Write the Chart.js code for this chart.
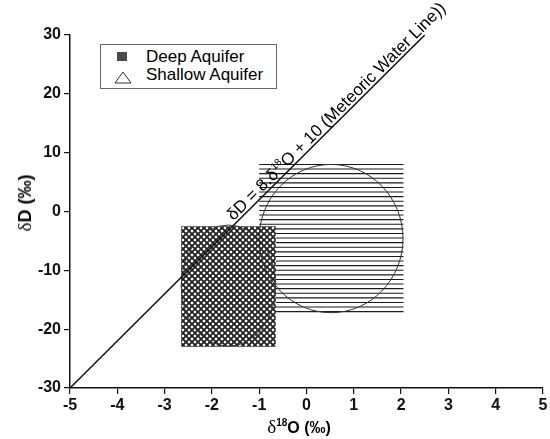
<!DOCTYPE html>
<html>
<head>
<meta charset="utf-8">
<script src="https://cdn.jsdelivr.net/npm/chart.js@4.4.0/dist/chart.umd.min.js"></script>
<style>
  html, body { margin: 0; padding: 0; background: #fff; }
  #wrap { position: relative; width: 550px; height: 439px; font-family: "Liberation Sans", Arial, sans-serif; color: #000; }
  #chart { position: absolute; left: 0; top: 0; }
  .legend { position: absolute; left: 100px; top: 44px; width: 175px; height: 43px; border: 1px solid #666; background: #fff; }
  .legend .sq { position: absolute; left: 16px; top: 7px; width: 10px; height: 9px; background: #4a4a4a; }
  .legend svg { position: absolute; left: 13px; top: 26px; }
  .legend .txt { position: absolute; left: 45px; font-size: 17px; line-height: 18px; white-space: nowrap; }
  .xtitle { position: absolute; left: 299px; top: 417px; transform: translateX(-50%); font-size: 16px; font-weight: bold; line-height: 20px; white-space: nowrap; }
  .ytitle { position: absolute; left: 25px; top: 203px; transform: translate(-50%, -50%) rotate(-90deg); font-size: 18px; font-weight: bold; line-height: 22px; white-space: nowrap; }
  .delta { font-family: "Liberation Serif", "DejaVu Serif", serif; font-weight: normal; font-size: 19px; }
  .xtitle sup { font-size: 10px; vertical-align: baseline; position: relative; top: -7px; }
</style>
</head>
<body>
<div id="wrap">
  <canvas id="chart" width="550" height="439"></canvas>
  <div class="legend">
    <div class="sq"></div>
    <div class="txt" style="top:3px">Deep Aquifer</div>
    <svg width="18" height="13" viewBox="0 0 18 13"><polygon points="9,1 17,12 1,12" fill="#fff" stroke="#333" stroke-width="1"/></svg>
    <div class="txt" style="top:21px">Shallow Aquifer</div>
  </div>
  <div class="xtitle"><span class="delta">δ</span><sup>18</sup>O (‰)</div>
  <div class="ytitle"><span class="delta">δ</span>D (‰)</div>
</div>
<script>
// axes
const xMin = -5, xMax = 5;
const yMin = -30, yMax = 30;

// meteoric water line  dD = 8 d18O + 10
const mwlX = [-5, 2.5];
const mwlY = [-30, 30];

// deep aquifer field (cross-hatched box + ellipse)
const deepBoxX = [-2.65, -0.65];
const deepBoxY = [-23, -2.5];
const deepEllipse = [-1.65, -12.6, 1.0, 10.3];     // cx, cy, rx, ry

// shallow aquifer field (horizontal lines box + ellipse)
const shallowBoxX = [-1.0, 2.05];
const shallowBoxY = [-17, 8];
const shallowEllipse = [0.52, -4.6, 1.52, 12.6];

const mwlLabelStartX = -1.5;

function crossPattern(ctx) {
  const p = 6;
  const c = document.createElement('canvas');
  c.width = p; c.height = p;
  const g = c.getContext('2d');
  g.fillStyle = '#fff';
  g.fillRect(0, 0, p, p);
  g.strokeStyle = '#222';
  g.lineWidth = 1.9;
  g.beginPath();
  g.moveTo(-1, -1); g.lineTo(p + 1, p + 1);
  g.moveTo(p + 1, -1); g.lineTo(-1, p + 1);
  g.stroke();
  return ctx.createPattern(c, 'repeat');
}

const fieldsPlugin = {
  id: 'fields',
  beforeDatasetsDraw(chart) {
    const { ctx, scales: { x, y } } = chart;
    ctx.save();

    // shallow box - horizontal lines
    let l = x.getPixelForValue(shallowBoxX[0]), r = x.getPixelForValue(shallowBoxX[1]);
    let t = y.getPixelForValue(shallowBoxY[1]), b = y.getPixelForValue(shallowBoxY[0]);
    ctx.strokeStyle = '#1a1a1a';
    ctx.lineWidth = 1.1;
    for (let yy = t; yy <= b + 0.5; yy += 4.6) {
      ctx.beginPath();
      ctx.moveTo(l, yy);
      ctx.lineTo(r, yy);
      ctx.stroke();
    }

    // deep box - cross hatch
    l = x.getPixelForValue(deepBoxX[0]); r = x.getPixelForValue(deepBoxX[1]);
    t = y.getPixelForValue(deepBoxY[1]); b = y.getPixelForValue(deepBoxY[0]);
    ctx.fillStyle = crossPattern(ctx);
    ctx.fillRect(l, t, r - l, b - t);

    // ellipses
    ctx.strokeStyle = '#333';
    ctx.lineWidth = 1;
    [deepEllipse, shallowEllipse].forEach(e => {
      const cx = x.getPixelForValue(e[0]), cy = y.getPixelForValue(e[1]);
      const rx = Math.abs(x.getPixelForValue(e[0] + e[2]) - cx);
      const ry = Math.abs(y.getPixelForValue(e[1] + e[3]) - cy);
      ctx.beginPath();
      ctx.ellipse(cx, cy, rx, ry, 0, 0, Math.PI * 2);
      ctx.stroke();
    });
    ctx.restore();
  },
  afterDatasetsDraw(chart) {
    const { ctx, scales: { x, y } } = chart;
    const px0 = x.getPixelForValue(mwlX[0]), py0 = y.getPixelForValue(mwlY[0]);
    const px1 = x.getPixelForValue(mwlX[1]), py1 = y.getPixelForValue(mwlY[1]);
    const ang = Math.atan2(py1 - py0, px1 - px0);
    const f = (mwlLabelStartX - mwlX[0]) / (mwlX[1] - mwlX[0]);
    const sx = px0 + f * (px1 - px0), sy = py0 + f * (py1 - py0);

    ctx.save();
    ctx.translate(sx, sy);
    ctx.rotate(ang);
    ctx.fillStyle = '#000';
    ctx.textBaseline = 'alphabetic';
    const big = '17px "Liberation Sans", Arial, sans-serif';
    const small = '10px "Liberation Sans", Arial, sans-serif';
    let cx = 0;
    ctx.font = big;
    ctx.fillText('δD = 8.δ', cx, -3);
    cx += ctx.measureText('δD = 8.δ').width;
    ctx.font = small;
    ctx.fillText('18', cx, -10);
    cx += ctx.measureText('18').width;
    ctx.font = big;
    ctx.fillText('O + 10 (Meteoric Water Line))', cx, -3);
    ctx.restore();
  }
};

const tickFont = { family: '"Liberation Sans", Arial, sans-serif', size: 16, weight: 'bold' };

new Chart(document.getElementById('chart'), {
  type: 'scatter',
  data: {
    datasets: [{
      label: 'Meteoric Water Line',
      data: mwlX.map((v, i) => ({ x: v, y: mwlY[i] })),
      showLine: true,
      borderColor: '#111',
      borderWidth: 1.5,
      pointRadius: 0,
      fill: false
    }]
  },
  options: {
    responsive: false,
    animation: false,
    devicePixelRatio: 1,
    layout: { padding: { top: 35, right: 7, left: 0, bottom: 0 } },
    plugins: { legend: { display: false }, tooltip: { enabled: false } },
    scales: {
      x: {
        type: 'linear',
        min: xMin, max: xMax,
        ticks: { stepSize: 1, color: '#111', font: tickFont, padding: 2, maxRotation: 0 },
        grid: { drawOnChartArea: false, drawTicks: true, tickLength: 6, color: '#111', lineWidth: 1.2 },
        border: { display: true, color: '#111', width: 1.5 },
        afterFit(s) { s.height = 51; }
      },
      y: {
        type: 'linear',
        min: yMin, max: yMax,
        ticks: { stepSize: 10, color: '#111', font: tickFont, padding: 3 },
        grid: { drawOnChartArea: false, drawTicks: true, tickLength: 6, color: '#111', lineWidth: 1.2 },
        border: { display: true, color: '#111', width: 1.5 },
        afterFit(s) { s.width = 70; }
      }
    }
  },
  plugins: [fieldsPlugin]
});
</script>
</body>
</html>
